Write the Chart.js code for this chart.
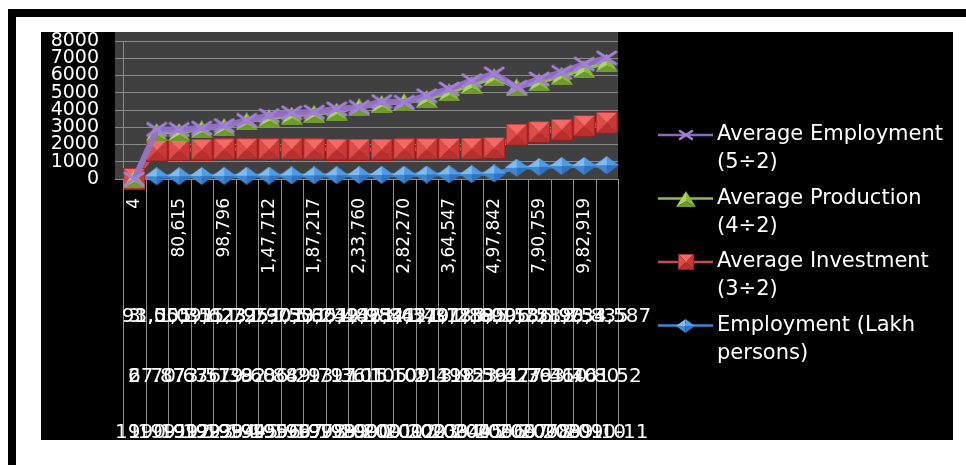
<!DOCTYPE html>
<html>
<head>
<meta charset="utf-8">
<script src="https://cdn.jsdelivr.net/npm/chart.js@4.4.0/dist/chart.umd.min.js"></script>
<style>
  html, body { margin: 0; padding: 0; background: #fff; }
  body { width: 966px; height: 465px; position: relative; overflow: hidden; }
  .bar-top { position: absolute; left: 8px; top: 9px; width: 958px; height: 8px; background: #000; }
  .bar-left { position: absolute; left: 8px; top: 9px; width: 8px; height: 456px; background: #000; }
  .wrap { position: absolute; left: 41px; top: 32px; width: 912px; height: 408px; background: #000; }
</style>
</head>
<body>
<div class="bar-top"></div>
<div class="bar-left"></div>
<div class="wrap"><canvas id="myChart" width="912" height="408"></canvas></div>
<script>
// rows of the source table (first row is the column-number header)
const years = ['1', '1990-91', '1991-92', '1992-93', '1993-94', '1994-95', '1995-96', '1996-97',
  '1997-98', '1998-99', '1999-00', '2000-01', '2001-02', '2002-03', '2003-04', '2004-05',
  '2005-06', '2006-07', '2007-08', '2008-09', '2009-10', '2010-11'];
const units = ['2', '67.87', '70.63', '73.51', '76.39', '79.60', '82.84', '86.21', '89.71', '93.36',
  '97.15', '101.10', '105.21', '109.49', '113.95', '118.59', '123.42', '361.76', '377.36',
  '393.70', '410.80', '461.52'];
const investment = ['3', '93,555', '1,00,351', '1,09,623', '1,15,795', '1,23,790', '1,25,750',
  '1,30,560', '1,33,242', '1,35,482', '1,39,982', '1,46,845', '1,54,349', '1,62,317', '1,70,219',
  '1,78,699', '1,88,113', '5,00,758', '5,58,190', '6,21,753', '6,93,835', '8,34,587'];
const production = ['4', '78,802', '80,615', '84,413', '98,796', '1,22,154', '1,47,712', '1,67,805',
  '1,87,217', '2,10,454', '2,33,760', '2,61,297', '2,82,270', '3,14,850', '3,64,547', '4,29,796',
  '4,97,842', '7,09,398', '7,90,759', '8,80,805', '9,82,919', '10,95,758'];

const avgEmployment = [2.5, 2870, 2870, 2950, 3100, 3400, 3680, 3840, 3880, 4070, 4160, 4490,
  4450, 4830, 5220, 5700, 6100, 5310, 5800, 6180, 6660, 7020];
const avgProduction = [2, 2720, 2720, 2880, 3010, 3340, 3530, 3680, 3780, 3910, 4160, 4350,
  4450, 4640, 5020, 5450, 5890, 5310, 5600, 5985, 6370, 6750];
const avgInvestment = [1.5, 1650, 1680, 1700, 1720, 1730, 1720, 1730, 1720, 1710, 1700, 1710,
  1720, 1730, 1740, 1760, 1790, 2570, 2720, 2850, 3070, 3260];
const employment = [5, 158, 166, 175, 183, 191, 198, 206, 213, 221, 229, 239, 249, 260, 271,
  283, 320, 650, 700, 750, 760, 800];

const seriesNames = [
  ['Average Employment', '(5\u00f72)'],
  ['Average Production', '(4\u00f72)'],
  ['Average Investment', '(3\u00f72)'],
  ['Employment (Lakh', 'persons)']
];
const yTicks = [0, 1000, 2000, 3000, 4000, 5000, 6000, 7000, 8000];

// bevelled marker images
function newCanvas(w, h) {
  const c = document.createElement('canvas');
  c.width = w; c.height = h;
  return c;
}
function face(g, pts, col) {
  g.beginPath();
  g.moveTo(pts[0][0], pts[0][1]);
  for (let i = 1; i < pts.length; i++) g.lineTo(pts[i][0], pts[i][1]);
  g.closePath();
  g.fillStyle = col;
  g.fill();
}
function squareMarker(s) {
  const c = newCanvas(s, s), g = c.getContext('2d'), m = s / 2;
  face(g, [[0, 0], [s, 0], [m, m]], '#f26a66');
  face(g, [[0, 0], [0, s], [m, m]], '#e04a47');
  face(g, [[s, 0], [s, s], [m, m]], '#cc3734');
  face(g, [[0, s], [s, s], [m, m]], '#b8302d');
  g.strokeStyle = 'rgba(120,20,20,0.6)';
  g.strokeRect(0.5, 0.5, s - 1, s - 1);
  return c;
}
function diamondMarker(w, h) {
  const c = newCanvas(w, h), g = c.getContext('2d');
  const T = [w / 2, 0], R = [w, h / 2], B = [w / 2, h], L = [0, h / 2], C = [w / 2, h / 2];
  face(g, [L, T, C], '#7dbcf2');
  face(g, [T, R, C], '#4f9ce6');
  face(g, [R, B, C], '#2f74c0');
  face(g, [B, L, C], '#3f88d6');
  return c;
}
function triangleMarker(w, h) {
  const c = newCanvas(w, h), g = c.getContext('2d');
  const A = [w / 2, 0], BL = [0, h], BR = [w, h], C = [w / 2, h * 0.66];
  face(g, [A, BL, C], '#a9d85e');
  face(g, [A, BR, C], '#88bb3c');
  face(g, [BL, BR, C], '#6f9a2c');
  return c;
}
function crossMarker(w, h, lw) {
  const c = newCanvas(w, h), g = c.getContext('2d');
  g.lineCap = 'round';
  g.strokeStyle = '#a37fda';
  g.lineWidth = lw;
  g.beginPath();
  g.moveTo(2, 2); g.lineTo(w - 2, h - 2);
  g.moveTo(w - 2, 2); g.lineTo(2, h - 2);
  g.stroke();
  return c;
}

const markers = [crossMarker(22, 16, 3), triangleMarker(22, 18), squareMarker(22), diamondMarker(24, 18)];
const legendMarkers = [crossMarker(16, 12, 2.5), triangleMarker(20, 16), squareMarker(16), diamondMarker(19, 14)];
const lineColors = ['rgba(146,112,198,0.95)', '#8cbf45', '#d64545', '#3d88d5'];
const lineWidths = [6, 4, 4, 4];

const FONT = '"DejaVu Sans", sans-serif';

const backdrop = {
  id: 'backdrop',
  beforeDraw(chart) {
    const {ctx, scales: {x, y}} = chart;
    ctx.save();
    ctx.fillStyle = '#000';
    ctx.fillRect(0, 0, chart.width, chart.height);
    ctx.fillStyle = '#404040';
    ctx.fillRect(x.left - 8, 0, x.right - x.left + 8, y.bottom);
    ctx.restore();
  }
};

// multi-level category axis: divider lines and the outer label rows
const levelAxis = {
  id: 'levelAxis',
  afterDraw(chart) {
    const {ctx, scales: {x}} = chart;
    const n = years.length;
    const half = (x.getPixelForValue(1) - x.getPixelForValue(0)) / 2;
    ctx.save();
    ctx.strokeStyle = '#8f8f8f';
    ctx.lineWidth = 1;
    ctx.beginPath();
    for (let i = 0; i <= n; i++) {
      const px = i < n ? x.getPixelForValue(i) - half : x.getPixelForValue(n - 1) + half;
      const xx = Math.round(px) + 0.5;
      ctx.moveTo(xx, x.top);
      ctx.lineTo(xx, x.top + 258);
    }
    ctx.stroke();
    ctx.fillStyle = '#fff';
    ctx.font = '20px ' + FONT;
    ctx.textAlign = 'center';
    ctx.textBaseline = 'middle';
    const rows = [[investment, 138], [units, 198], [years, 254]];
    rows.forEach(([labels, dy]) => {
      labels.forEach((t, i) => {
        ctx.fillText(t, x.getPixelForValue(i), x.top + dy);
      });
    });
    ctx.restore();
  }
};

const sideLegend = {
  id: 'sideLegend',
  afterDraw(chart) {
    const {ctx, chartArea} = chart;
    const x0 = chartArea.right + 40;
    ctx.save();
    ctx.font = '21px ' + FONT;
    ctx.textBaseline = 'middle';
    ctx.textAlign = 'left';
    seriesNames.forEach((lines, i) => {
      const y = 103 + i * 63.5;
      ctx.strokeStyle = lineColors[i];
      ctx.lineWidth = 2.5;
      ctx.beginPath();
      ctx.moveTo(x0, y);
      ctx.lineTo(x0 + 55, y);
      ctx.stroke();
      const m = legendMarkers[i];
      ctx.drawImage(m, Math.round(x0 + 27.5 - m.width / 2), Math.round(y - m.height / 2));
      ctx.fillStyle = '#fff';
      lines.forEach((t, k) => ctx.fillText(t, x0 + 59, y + k * 28));
    });
    ctx.restore();
  }
};

const seriesData = [avgEmployment, avgProduction, avgInvestment, employment];

const config = {
  type: 'line',
  data: {
    labels: years,
    datasets: seriesData.map((d, i) => ({
      label: seriesNames[i].join(' '),
      data: d,
      borderColor: lineColors[i],
      borderWidth: lineWidths[i],
      pointStyle: markers[i],
      pointRadius: 10,
      tension: 0,
      clip: false
    }))
  },
  options: {
    responsive: false,
    animation: false,
    events: [],
    layout: { autoPadding: false, padding: { top: 9, right: 335, left: 0, bottom: 0 } },
    plugins: {
      legend: { display: false },
      tooltip: { enabled: false }
    },
    scales: {
      x: {
        offset: true,
        afterFit: (s) => { s.height = 261; },
        grid: { display: false, offset: true },
        border: { display: true, color: '#8a8a8a' },
        ticks: {
          autoSkip: false,
          minRotation: 90,
          maxRotation: 90,
          padding: 11,
          color: '#fff',
          font: { family: FONT, size: 17 },
          callback: (v, i) => (i % 2 === 0 ? production[i] : '')
        }
      },
      y: {
        min: 0,
        max: 8000,
        afterFit: (s) => { s.width = 82; s.paddingTop = 0; s.paddingBottom = 0; },
        afterBuildTicks: (s) => { s.ticks = yTicks.map(v => ({ value: v })); },
        grid: { color: '#8a8a8a', tickLength: 8, drawTicks: true },
        border: { display: true, color: '#8a8a8a' },
        ticks: {
          autoSkip: false,
          padding: 16,
          color: '#fff',
          font: { family: FONT, size: 19, lineHeight: 0.85 },
          callback: (v) => String(v)
        }
      }
    }
  },
  plugins: [backdrop, levelAxis, sideLegend]
};

const myChart = new Chart(document.getElementById('myChart'), config);
</script>
</body>
</html>
